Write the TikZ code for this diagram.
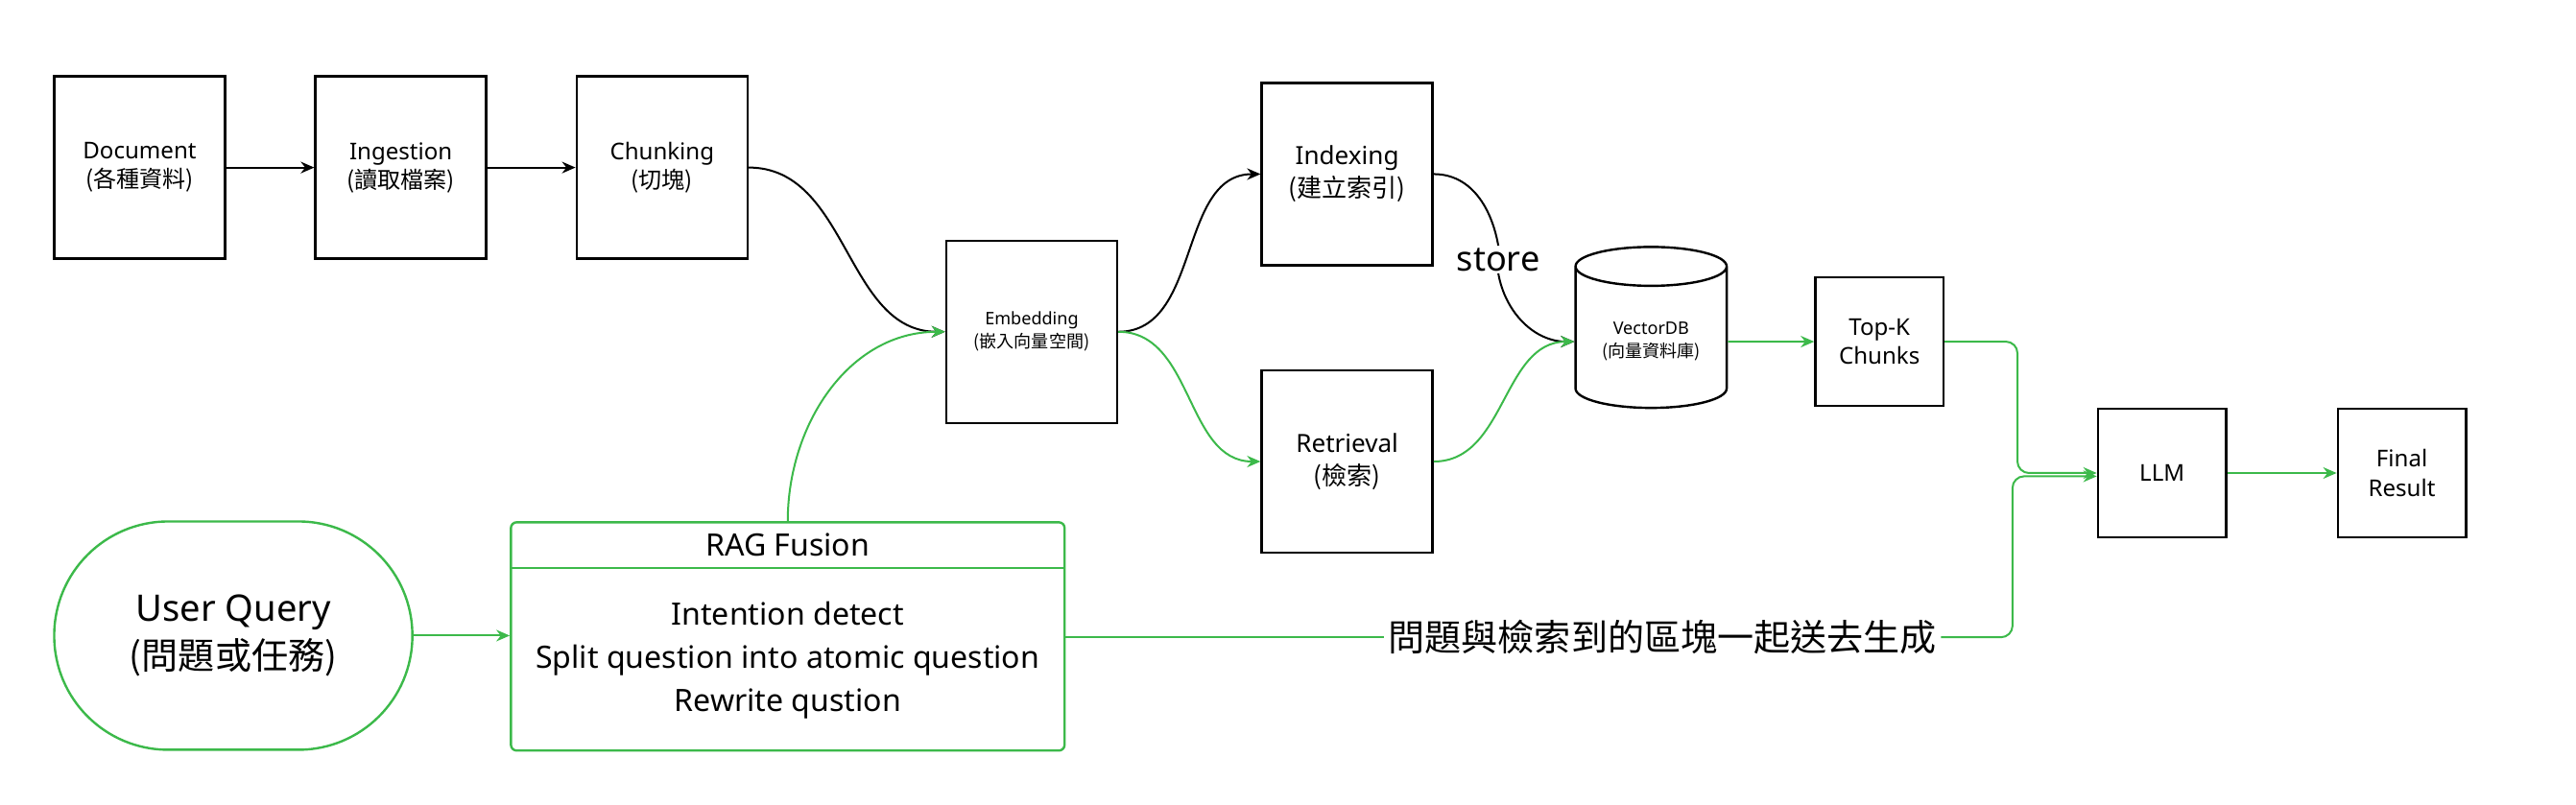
\documentclass[tikz,border=0pt]{standalone}
\usepackage{fontspec}
\setmainfont{Noto Sans}
\newfontfamily\cjk{Noto Sans CJK TC}
\usetikzlibrary{shapes.geometric,arrows.meta}
\definecolor{grn}{HTML}{3CB94A}
\begin{document}
\begin{tikzpicture}[x=0.03cm,y=-0.03cm,
 box/.style={draw,line width=1.2pt,minimum width=3.12cm,minimum height=3.33cm,align=center,font=\fontsize{12}{15}\selectfont},
 sbox/.style={draw,line width=1.2pt,minimum width=2.34cm,minimum height=2.34cm,align=center,font=\fontsize{12}{15}\selectfont},
 blk/.style={line width=1pt,-{Stealth[length=7pt,width=6pt]}},
 gr/.style={line width=1pt,grn,-{Stealth[length=7pt,width=6pt]}}]
\useasboundingbox (0,0) rectangle (1568,490);
\node[box] (doc) at (85,102) {Document\\{\cjk (各種資料)}};
\node[box] (ing) at (244,102) {Ingestion\\{\cjk (讀取檔案)}};
\node[box] (chk) at (403,102) {Chunking\\{\cjk (切塊)}};
\node[box,font=\fontsize{9}{12}\selectfont] (emb) at (628,202) {Embedding\\{\cjk (嵌入向量空間)}};
\node[box,font=\fontsize{13}{17}\selectfont] (idx) at (820,106) {Indexing\\{\cjk (建立索引)}};
\node[box,font=\fontsize{13}{17}\selectfont] (ret) at (820,281) {Retrieval\\{\cjk (檢索)}};
\node[cylinder,shape border rotate=90,draw,line width=1.2pt,minimum width=2.76cm,minimum height=2.94cm,aspect=0.35,align=center,font=\fontsize{9}{12}\selectfont] (vdb) at (1005,208) {VectorDB\\{\cjk (向量資料庫)}};
\node[sbox] (topk) at (1144,208) {Top-K\\Chunks};
\node[sbox] (llm) at (1316,288) {LLM};
\node[sbox] (fin) at (1462,288) {Final\\Result};
\node[draw=grn,line width=1.2pt,rounded corners=2.08cm,minimum width=6.54cm,minimum height=4.17cm,align=center,font=\fontsize{19}{25}\selectfont] (uq) at (142,387) {User Query\\{\cjk (問題或任務)}};
\node[draw=grn,line width=1.2pt,rounded corners=3pt,minimum width=10.11cm,minimum height=4.17cm] (rag) at (479.5,387.5) {};
\node[font=\fontsize{16}{20}\selectfont] (ragt) at (479.5,332) {RAG Fusion};
\draw[grn,line width=1.2pt] (rag.west |- 0,346) -- (rag.east |- 0,346);
\node[align=center,font=\fontsize{16}{22.5}\selectfont] (ragb) at (479.5,402) {Intention detect\\Split question into atomic question\\Rewrite qustion};
\node[fill=white,inner sep=2pt,font=\fontsize{19}{24}\selectfont] (lbl) at (1012,388) {\cjk 問題與檢索到的區塊一起送去生成};
\node[fill=white,inner sep=1pt,font=\fontsize{18}{22}\selectfont] (store) at (912,158) {store};
\draw[blk] (doc) -- (ing);
\draw[blk] (ing) -- (chk);
\draw[blk] (chk.east) to[out=0,in=180] (emb.west);
\draw[blk] (emb.east) to[out=0,in=180] (idx.west);
\draw[gr] (emb.east) to[out=0,in=180] (ret.west);
\draw[gr] (rag.north) to[out=90,in=180] (emb.west);
\draw[line width=1pt] (idx.east) to[out=0,in=100] (store.north);
\draw[blk] (store.south) to[out=-80,in=180] (vdb.west);
\draw[gr] (ret.east) to[out=0,in=180] (vdb.west);
\draw[gr] (vdb.east) -- (topk.west);
\draw[gr,rounded corners=6pt] (topk.east) -- (1228,208) -- (1228,288) -- (llm.west);
\draw[grn,line width=1pt] (uq.east) ++(0,0) coordinate (ue);
\draw[gr] (uq.east) -- (rag.west |- uq.east);
\draw[grn,line width=1pt] (rag.east |- lbl) -- (lbl.west);
\draw[gr,rounded corners=6pt] (lbl.east) -- (1225,388) -- (1225,290) -- (llm.west |- 0,290);
\draw[gr] (llm) -- (fin);
\end{tikzpicture}
\end{document}
